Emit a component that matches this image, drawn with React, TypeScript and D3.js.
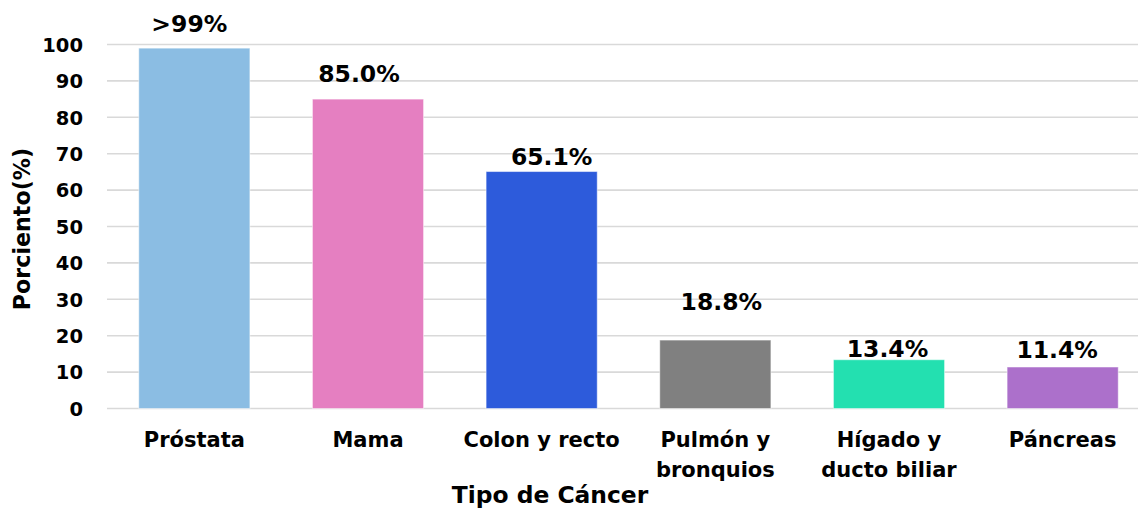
import React from "react";
import * as d3 from "d3";

const categories: string[][] = [
  ["Próstata"],
  ["Mama"],
  ["Colon y recto"],
  ["Pulmón y", "bronquios"],
  ["Hígado y", "ducto biliar"],
  ["Páncreas"],
];
const values: number[] = [99, 85.0, 65.1, 18.8, 13.4, 11.4];
const valueLabels: string[] = [">99%", "85.0%", "65.1%", "18.8%", "13.4%", "11.4%"];
const colors: string[] = ["#8bbde3", "#e57fc1", "#2d5bdb", "#808080", "#23e0b0", "#ac70cb"];
const yTicks: number[] = [0, 10, 20, 30, 40, 50, 60, 70, 80, 90, 100];
// label placement tweaks (style)
const labelDx: number[] = [-5, -9, 10, 6, -1.5, -5.5];
const labelDy: number[] = [-16, -17, -7, -30, -2.5, -9];

const W = 1138;
const H = 511;
const FONT = "'DejaVu Sans', sans-serif";

export default function App() {
  const x = d3
    .scaleBand<number>()
    .domain(d3.range(categories.length))
    .range([107.5, 1149.5])
    .paddingInner(0.36)
    .paddingOuter(0.18);
  const y = d3.scaleLinear().domain([0, 100]).range([408.5, 44.5]);
  const bw = x.bandwidth();

  return (
    <svg
      width={W}
      height={H}
      style={{ position: "absolute", left: 0, top: 0, background: "#fff" }}
      fontFamily={FONT}
      fontWeight={700}
    >
      {yTicks.map((t) => (
        <g key={t}>
          <line x1={107} x2={W} y1={y(t)} y2={y(t)} stroke="#d9d9d9" strokeWidth={1.6} />
          <text x={83} y={y(t)} dy="0.37em" textAnchor="end" fontSize={19.5} fill="#000">
            {t}
          </text>
        </g>
      ))}
      {values.map((v, i) => (
        <rect
          key={i}
          x={x(i)!}
          y={y(v)}
          width={bw}
          height={y(0) - y(v)}
          fill={colors[i]}
          stroke="#ffffff"
          strokeOpacity={0.5}
          strokeWidth={1}
        />
      ))}
      {values.map((v, i) => (
        <text
          key={i}
          x={x(i)! + bw / 2 + labelDx[i]}
          y={y(v) + labelDy[i]}
          textAnchor="middle"
          fontSize={23.5}
          fill="#000"
        >
          {valueLabels[i]}
        </text>
      ))}
      {categories.map((lines, i) => (
        <text key={i} textAnchor="middle" fontSize={21} fill="#000">
          {lines.map((ln, j) => (
            <tspan key={j} x={x(i)! + bw / 2} y={447 + j * 30}>
              {ln}
            </tspan>
          ))}
        </text>
      ))}
      <text x={550} y={503} textAnchor="middle" fontSize={23.4} fill="#000">
        Tipo de Cáncer
      </text>
      <text
        transform={`translate(30, ${229}) rotate(-90)`}
        textAnchor="middle"
        fontSize={22.2}
        fill="#000"
      >
        Porciento(%)
      </text>
    </svg>
  );
}
